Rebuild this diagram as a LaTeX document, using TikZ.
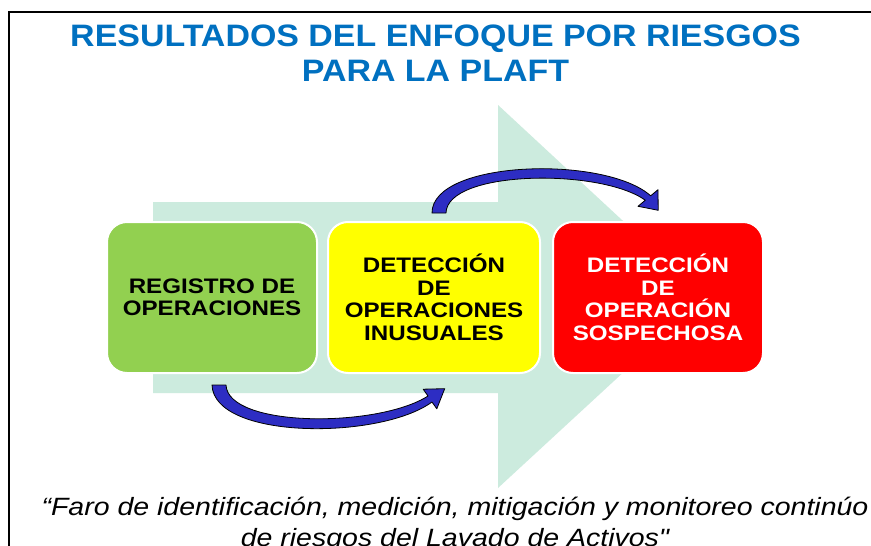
\documentclass[tikz,border=0pt]{standalone}
\usepackage{fontspec}
\newfontfamily\titlefont{Liberation Sans}[FakeStretch=1.095]
\newfontfamily\boxfont{Liberation Sans}[FakeStretch=1.15]
\newfontfamily\quotefont{Liberation Sans}[FakeStretch=1.14]
\definecolor{titleblue}{RGB}{0,112,192}
\definecolor{mint}{RGB}{204,235,222}
\definecolor{boxgreen}{RGB}{146,208,80}
\definecolor{boxyellow}{RGB}{255,255,0}
\definecolor{boxred}{RGB}{255,0,0}
\definecolor{arrowblue}{RGB}{45,45,195}
\tikzset{
  stagebox/.style={draw=white, line width=2pt, rounded corners=20pt,
    minimum width=210pt, minimum height=151pt, inner sep=0pt,
    align=center, font=\boxfont\bfseries\fontsize{21}{22.5}\selectfont},
  curvearrow/.style={fill=arrowblue, draw=black, line width=0.8pt, line join=round},
}
\begin{document}
\begin{tikzpicture}[x=1pt,y=-1pt]
\useasboundingbox (0,0) rectangle (871,546);
\clip (0,0) rectangle (871,546);
\fill[white] (0,0) rectangle (871,546);
\draw[line width=2pt] (9,580) -- (9,12) -- (900,12);

% title
\node[inner sep=0pt, align=center, text=titleblue,
      font=\titlefont\bfseries\fontsize{31}{35}\selectfont]
  (title) at (435.5,53.5) {RESULTADOS DEL ENFOQUE POR RIESGOS\\PARA LA PLAFT};

% big background arrow
\fill[mint] (153,202) -- (498,202) -- (498,105) -- (705,297) -- (498,488)
  -- (498,393) -- (153,393) -- cycle;

% stage boxes
\node[stagebox, fill=boxgreen, minimum width=210pt] (reg) at (212,297.5)
  {REGISTRO DE\\OPERACIONES};
\node[stagebox, fill=boxyellow, minimum width=212pt] (inus) at (434,297.5)
  {DETECCIÓN\\DE\\OPERACIONES\\INUSUALES};
\node[stagebox, fill=boxred, text=white, minimum width=210pt] (sosp) at (658,297.5)
  {DETECCIÓN\\DE\\OPERACIÓN\\SOSPECHOSA};

% lower curved arrow (registro -> inusuales)
\path[curvearrow] (212,385) .. controls (214,440) and (380,440) .. (432,402)
  -- (436.8,408.8) -- (444.7,388.7) -- (423.2,389.2) -- (428,396)
  .. controls (378,428) and (228,428) .. (226,385) -- cycle;

% upper curved arrow (inusuales -> sospechosa)
\path[curvearrow] (432,213) .. controls (432,160) and (605,155) .. (650.7,195.8)
  -- (658,189.7) -- (658.2,210.3) -- (638,206.3) -- (645.3,200.2)
  .. controls (600,168) and (447,170) .. (446,213) -- cycle;

% quote
\node[inner sep=0pt, align=center,
      font=\quotefont\itshape\fontsize{25}{31}\selectfont]
  (quote) at (455,524.5) {“Faro de identificación, medición, mitigación y monitoreo continúo\\de riesgos del Lavado de Activos"};
\end{tikzpicture}
\end{document}
